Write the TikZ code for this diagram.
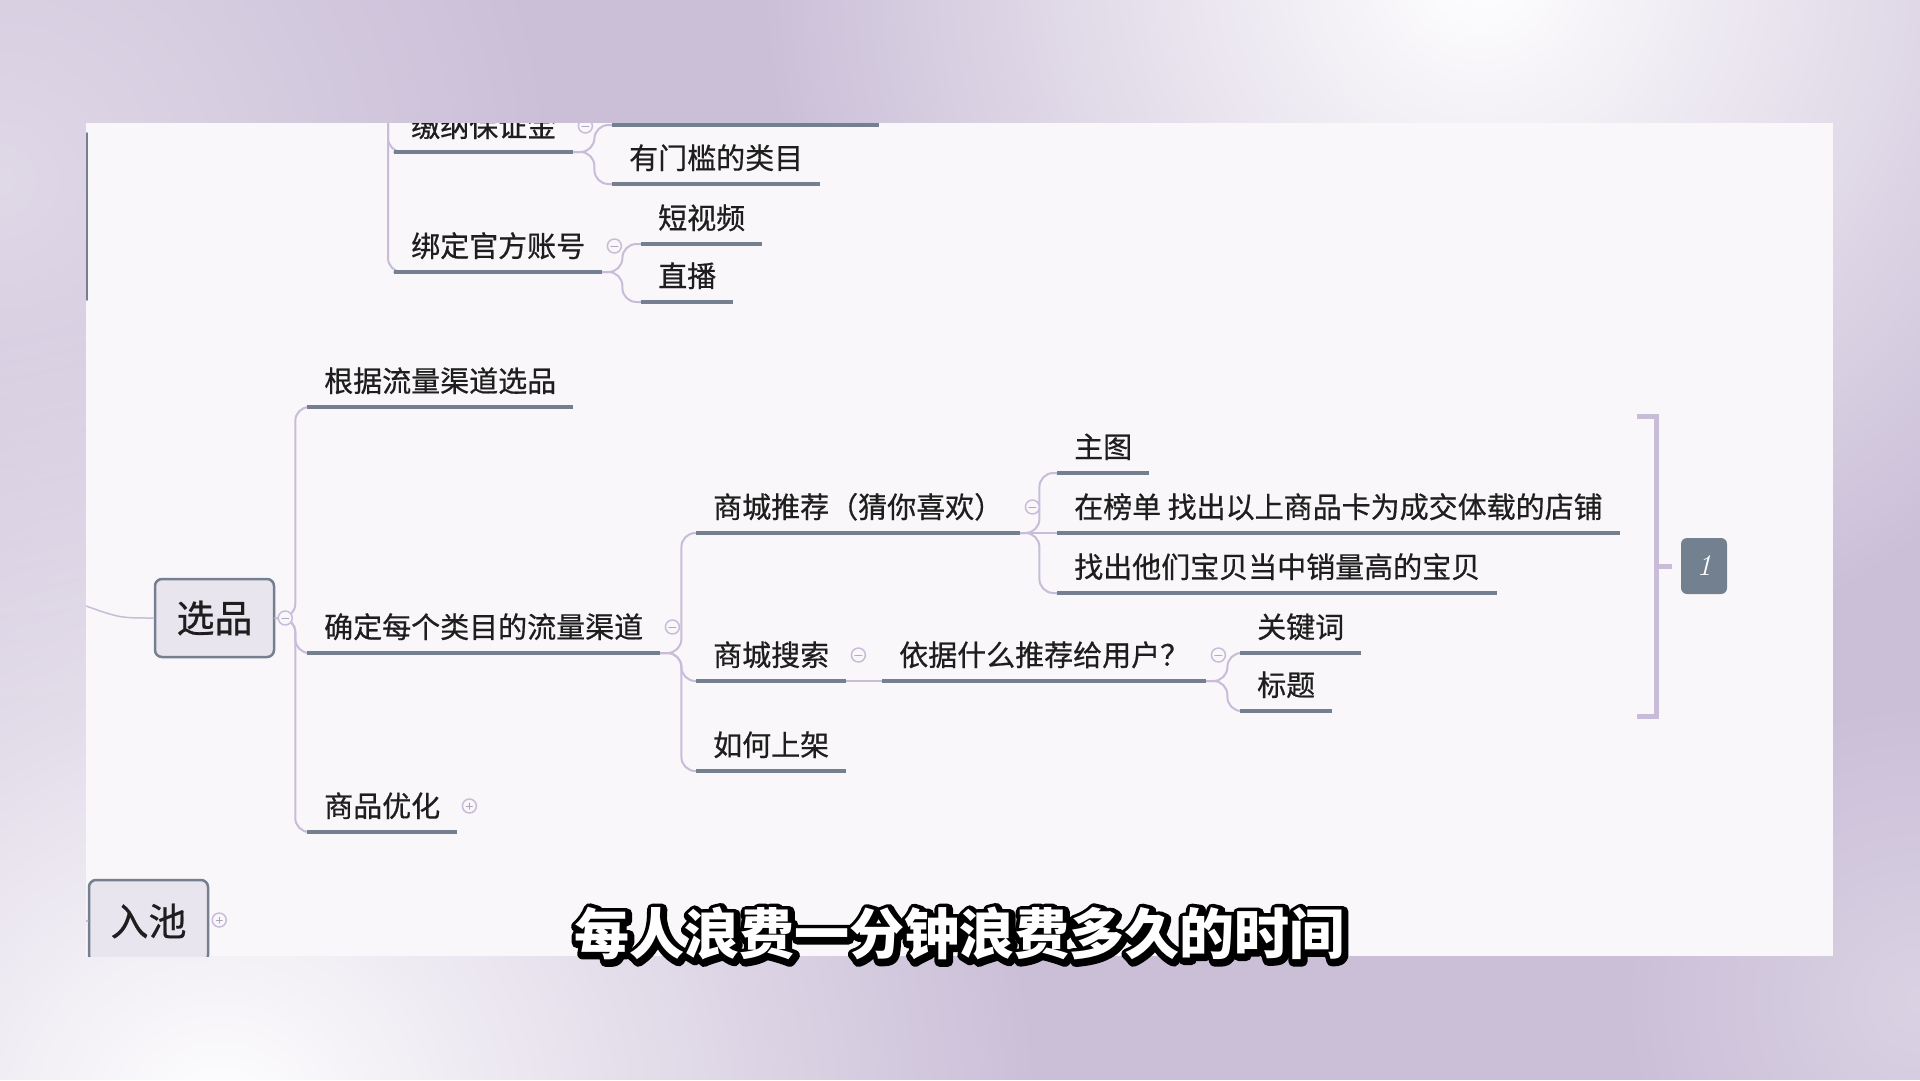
\documentclass[tikz,border=0pt]{standalone}
\usepackage{fontspec}
\usepackage{tikz}
\usetikzlibrary{positioning,calc,fadings}
\newfontfamily\zhfont{Noto Sans CJK SC}
\newfontfamily\zhtopic{Noto Sans CJK SC}[FakeBold=0.6]
\newfontfamily\zhrim{Noto Sans CJK SC}[FakeBold=20]
\definecolor{bglilac}{HTML}{CBBFD8}
\definecolor{paper}{HTML}{F9F7F9}
\definecolor{slate}{HTML}{74808F}
\definecolor{lilac}{HTML}{C8BCD9}
\definecolor{haze}{HTML}{E9E5EF}
\definecolor{ink}{HTML}{1E1E1E}
\definecolor{tagfill}{HTML}{738090}
\newcommand\topicfont{\zhtopic\fontsize{29pt}{34pt}\selectfont}
\newcommand\rootfont{\zhtopic\fontsize{38pt}{44pt}\selectfont}
\newcommand\capfont{\zhfont\bfseries\fontsize{55pt}{62pt}\selectfont}
\newcommand\rimfont{\zhrim\bfseries\fontsize{55pt}{62pt}\selectfont}
\newcommand\subline{每人浪费一分钟浪费多久的时间}
\tikzfading[name=softglow,inner color=transparent!0,outer color=transparent!100]
\tikzset{
    every picture/.style={line cap=round,line join=round},
    topic/.style={anchor=south west,font=\topicfont,text=ink,
      inner xsep=17pt,inner ysep=0pt,text height=27pt,text depth=15pt},
    uline/.style={draw=slate,line width=4pt,line cap=butt},
    link/.style={draw=lilac,line width=2pt,rounded corners=14pt},
    fold/.style={circle,draw=lilac,fill=paper,line width=1.5pt,
      minimum size=14pt,inner sep=0pt,
      path picture={\draw[lilac!70!slate,line width=1pt]
        ($(path picture bounding box.center)+(-3.5,0)$) -- +(7,0);}},
    foldplus/.style={fold,path picture={\draw[lilac!60!slate,line width=1pt]
        ($(path picture bounding box.center)+(-3,0)$) -- +(6,0)
        ($(path picture bounding box.center)+(0,-3)$) -- +(0,6);}},
    rootbox/.style={draw=slate,fill=haze,line width=2.5pt,rounded corners=7pt,
      minimum width=119pt,minimum height=78pt,font=\rootfont,text=ink},
    brace/.style={draw=lilac,line width=5pt,line cap=butt,line join=miter},
    tag/.style={fill=tagfill,rounded corners=6pt,minimum width=46pt,
      minimum height=56pt,text=white,font=\fontsize{30pt}{30pt}\selectfont\itshape},
    captext/.style={font=\capfont,inner sep=0pt,text=white},
    caprim/.style={font=\rimfont,inner sep=0pt,text=black}
}
\begin{document}
\begin{tikzpicture}[x=1pt,y=-1pt]
  \useasboundingbox (0,0) rectangle (1920,1080);
  % backdrop
  \begin{scope}
    \clip (0,0) rectangle (1920,1080);
    \fill[bglilac] (0,0) rectangle (1920,1080);
    \fill[white,path fading=softglow] (1480,-30) circle (720pt);
    \fill[white,path fading=softglow] (220,1130) circle (820pt);
    \fill[white,opacity=.4,path fading=softglow] (0,180) circle (560pt);
    \fill[white,opacity=.3,path fading=softglow] (1920,1000) circle (300pt);
  \end{scope}
  \fill[paper] (86,123) rectangle (1833,956);

  \begin{scope}
    \clip (86,123) rectangle (1833,956);
    \draw[slate,line width=1.5pt] (87,133) -- (87,300);

    % upper branch, cut off by the frame
    \coordinate (fkT) at (388,90);
    \node[topic,minimum width=267pt] (topcut) at (612,125) {};
    \node[topic] (deposit) at (394,152) {缴纳保证金};
    \node[topic] (gate) at (612,184) {有门槛的类目};
    \node[topic] (bind) at (394,272) {绑定官方账号};
    \node[topic] (video) at (641,244) {短视频};
    \node[topic] (live) at (641,302) {直播};

    % 选品
    \node[rootbox] (xp) at (214.5,618) {选品};
    \node[topic] (t1) at (307,407) {根据流量渠道选品};
    \node[topic] (t2) at (307,653) {确定每个类目的流量渠道};
    \node[topic] (t3) at (307,832) {商品优化};
    \node[topic] (t21) at (696,533) {商城推荐（猜你喜欢）};
    \node[topic] (t22) at (696,681) {商城搜索};
    \node[topic] (t23) at (696,771) {如何上架};
    \node[topic] (t211) at (1057,473) {主图};
    \node[topic] (t212) at (1057,533) {在榜单 找出以上商品卡为成交体载的店铺};
    \node[topic] (t213) at (1057,593) {找出他们宝贝当中销量高的宝贝};
    \node[topic] (t221) at (882,681) {依据什么推荐给用户？};
    \node[topic] (t2211) at (1240,653) {关键词};
    \node[topic] (t2212) at (1240,711) {标题};

    % 入池
    \node[rootbox,minimum height=82pt] (rc) at (148.5,921) {入池};

    % forks
    \coordinate (fk-deposit) at ($(deposit.south east)+(21,0)$);
    \coordinate (fk-bind) at ($(bind.south east)+(20,0)$);
    \coordinate (fk-xp) at ($(xp.east)+(20,0)$);
    \coordinate (fk-t2) at ($(t2.south east)+(21,0)$);
    \coordinate (fk-t21) at ($(t21.south east)+(19,0)$);
    \coordinate (fk-t221) at ($(t221.south east)+(21,0)$);
    \coordinate (inL) at (86,606);
    \coordinate (inR) at (80,920);

    % connectors
    \foreach \c in {deposit,bind}
      \draw[link] (fkT) |- (\c.south west);
    \foreach \p/\c in {deposit/topcut,deposit/gate,bind/video,bind/live,
        t2/t21,t2/t22,t2/t23,t21/t211,t21/t213,t221/t2211,t221/t2212}
      \draw[link] (\p.south east) -- (fk-\p) |- (\c.south west);
    \draw[link] (t21.south east) -- (t212.south west);
    \draw[link] (t22.south east) -- (t221.south west);
    \foreach \c in {t1,t2,t3}
      \draw[link] (xp.east) -- (fk-xp) |- (\c.south west);
    \draw[link,line width=1.5pt] (inL) .. controls (120,618) .. (xp.west);
    \draw[link] (inR) -- (rc.west);

    \foreach \n in {topcut,deposit,gate,bind,video,live,t1,t2,t3,t21,t22,t23,
        t211,t212,t213,t221,t2211,t2212}
      \draw[uline] (\n.south west) -- (\n.south east);

    % fold markers
    \foreach \n in {deposit,bind,t2,t21,t22,t221}
      \node[fold] (f-\n) at ($(\n.south east)+(12,-26)$) {};
    \node[foldplus] (f-t3) at ($(t3.south east)+(12,-26)$) {};
    \node[fold] (f-xp) at ($(xp.east)+(10,0)$) {};
    \node[foldplus] (f-rc) at ($(rc.east)+(10,-1)$) {};

    % summary bracket
    \node[tag] (tag) at (1704,566) {1};
    \coordinate (brk) at (1656,566);
    \draw[brace] (1637,416) -| (brk) |- (1637,716);
    \draw[brace] (brk) -- ($(tag.west)+(-9,0)$);
  \end{scope}

  % subtitle
  \node[caprim] (rim) at (960.5,935) {\subline};
  \node[captext] (cap) at (959,933) {\subline};
\end{tikzpicture}
\end{document}
